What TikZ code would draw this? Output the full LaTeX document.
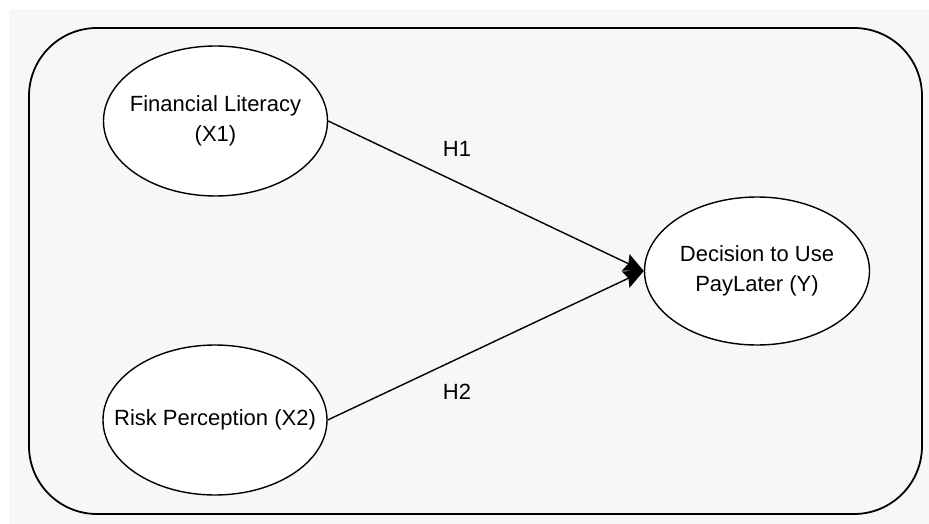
\documentclass[tikz,border=0pt]{standalone}
\usepackage{fontspec}
\setmainfont{Liberation Sans}
\usetikzlibrary{shapes.geometric,arrows.meta}
\definecolor{bggray}{HTML}{F7F7F7}
\tikzset{
  construct/.style={ellipse, draw=black, line width=1.4pt, fill=white,
    minimum width=224pt, minimum height=150pt, inner sep=0pt},
  ctext/.style={align=center, inner sep=0pt, font=\fontsize{22}{30}\selectfont},
  hyp/.style={line width=1.4pt, -{Stealth[length=20pt,width=18pt,inset=3pt]}},
  hlabel/.style={font=\fontsize{22}{28}\selectfont, inner sep=0pt}
}
\begin{document}
\begin{tikzpicture}[x=1pt,y=-1pt]
\useasboundingbox (0,0) rectangle (929,524);
\fill[white] (0,0) rectangle (929,524);
\fill[bggray] (9,9) rectangle (929,524);
\draw[line width=1.8pt, rounded corners=68pt] (29,28) rectangle (922,514);
\node[construct, label={[ctext]center:Financial Literacy\\(X1)}] (fl) at (215.5,121) {};
\node[construct, label={[ctext]center:Risk Perception (X2)}] (rp) at (215,420) {};
\node[construct, minimum width=225pt, minimum height=148pt,
      label={[ctext]center:Decision to Use\\PayLater (Y)}] (dy) at (757,271) {};
\draw[hyp] (fl.east) -- (dy.west);
\draw[hyp] (rp.east) -- (dy.west);
\node[hlabel] (h1) at (457,149) {H1};
\node[hlabel] (h2) at (457,392) {H2};
\end{tikzpicture}
\end{document}
